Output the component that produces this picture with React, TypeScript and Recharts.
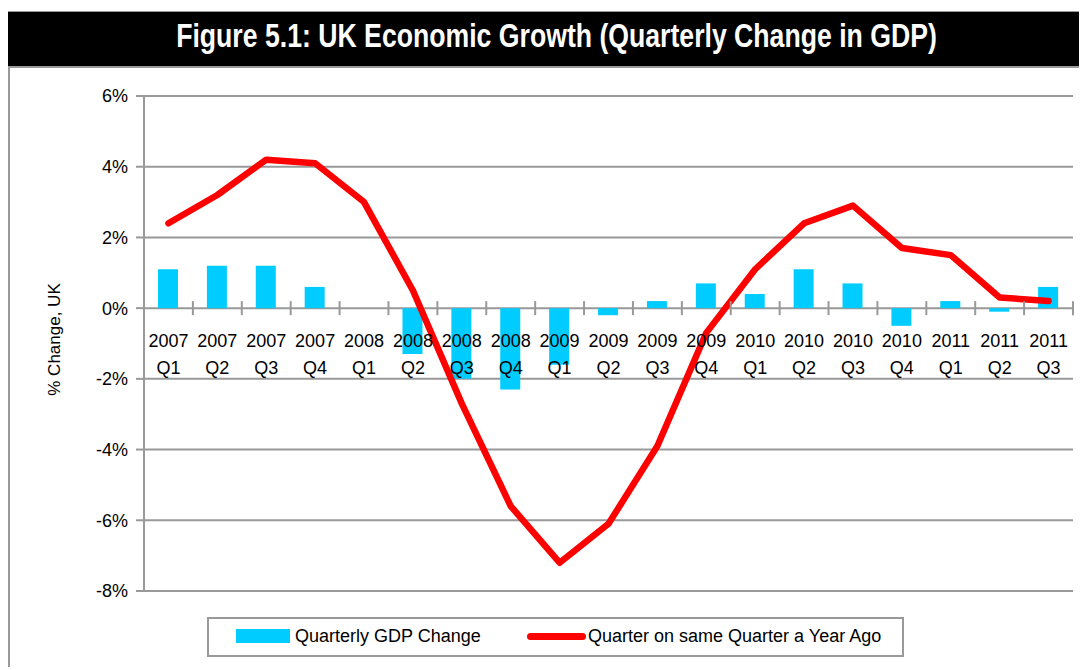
import { ComposedChart, Bar, Line, XAxis, YAxis, CartesianGrid } from "recharts";

const quarters = [
  "2007 Q1", "2007 Q2", "2007 Q3", "2007 Q4",
  "2008 Q1", "2008 Q2", "2008 Q3", "2008 Q4",
  "2009 Q1", "2009 Q2", "2009 Q3", "2009 Q4",
  "2010 Q1", "2010 Q2", "2010 Q3", "2010 Q4",
  "2011 Q1", "2011 Q2", "2011 Q3",
];
const quarterlyChange = [1.1, 1.2, 1.2, 0.6, 0.0, -1.3, -2.0, -2.3, -1.6, -0.2, 0.2, 0.7, 0.4, 1.1, 0.7, -0.5, 0.2, -0.1, 0.6];
const yearOnYear = [2.4, 3.2, 4.2, 4.1, 3.0, 0.5, -2.7, -5.6, -7.2, -6.1, -3.9, -0.7, 1.1, 2.4, 2.9, 1.7, 1.5, 0.3, 0.2];
const yTicks = [-8, -6, -4, -2, 0, 2, 4, 6];

const data = quarters.map((quarter, i) => ({
  quarter,
  gdp: quarterlyChange[i],
  yoy: yearOnYear[i],
}));

const W = 1079;
const H = 659;
const PLOT = { top: 85, left: 136, width: 929, height: 495 };
const X_AXIS_H = 30;
const Y_MIN = -8;
const Y_MAX = 6;
const ZERO_Y = PLOT.top + (PLOT.height * Y_MAX) / (Y_MAX - Y_MIN);
const BAND = PLOT.width / quarters.length;
const GRID = "#999";
const FONT = "'Liberation Sans', Arial, sans-serif";
// the title is set in a narrow bold face; squeeze the regular bold to match
const TITLE_SQUEEZE = 0.82;
const TITLE_CX = 548.5;

function QuarterTick(props: any) {
  const { x, payload, index } = props;
  const [year, q] = String(payload.value).split(" ");
  return (
    <g>
      <line x1={x - BAND / 2} x2={x - BAND / 2} y1={ZERO_Y - 7} y2={ZERO_Y + 7} stroke={GRID} strokeWidth={2} />
      {index === quarters.length - 1 && (
        <line x1={x + BAND / 2} x2={x + BAND / 2} y1={ZERO_Y - 7} y2={ZERO_Y + 7} stroke={GRID} strokeWidth={2} />
      )}
      <text x={x} y={ZERO_Y + 39} textAnchor="middle" fontSize={18} fontFamily={FONT} fill="#000">
        {year}
      </text>
      <text x={x} y={ZERO_Y + 66} textAnchor="middle" fontSize={18} fontFamily={FONT} fill="#000">
        {q}
      </text>
    </g>
  );
}

function YLabel(props: any) {
  const { viewBox } = props;
  const cx = viewBox.x + 46;
  const cy = viewBox.y + viewBox.height / 2 - 4;
  return (
    <text
      x={cx}
      y={cy}
      transform={`rotate(-90 ${cx} ${cy})`}
      textAnchor="middle"
      dominantBaseline="central"
      fontSize={17}
      fontFamily={FONT}
      fill="#000"
    >
      % Change, UK
    </text>
  );
}

export default function App() {
  return (
    <div style={{ position: "relative", top: 3, width: W, height: H, fontFamily: FONT }}>
      <style>{"html,body{overflow:hidden}"}</style>
      <div style={{ position: "absolute", left: 0, top: 0, width: 2, height: H, background: GRID }} />
      <div
        style={{
          position: "absolute",
          left: 0,
          top: 0,
          width: W,
          height: 57,
          background: "#000",
          borderTop: `1px solid ${GRID}`,
          borderBottom: `2px solid ${GRID}`,
          boxSizing: "border-box",
        }}
      />
      <svg style={{ position: "absolute", left: 0, top: 0 }} width={W} height={60}>
        <g transform={`translate(${TITLE_CX} 36) scale(${TITLE_SQUEEZE} 1)`}>
          <text
            x={0}
            y={0}
            textAnchor="middle"
            fontSize={32.5}
            fontWeight="bold"
            fontFamily={FONT}
            fill="#fff"
          >
            Figure 5.1: UK Economic Growth (Quarterly Change in GDP)
          </text>
        </g>
      </svg>

      <div style={{ position: "absolute", left: 0, top: 0 }}>
        <ComposedChart
          width={W}
          height={H}
          data={data}
          margin={{
            top: PLOT.top,
            right: W - PLOT.left - PLOT.width,
            bottom: H - PLOT.top - PLOT.height - X_AXIS_H,
            left: 0,
          }}
        >
          <CartesianGrid vertical={false} stroke={GRID} strokeWidth={2} />
          <YAxis
            width={PLOT.left}
            domain={[Y_MIN, Y_MAX]}
            ticks={yTicks}
            interval={0}
            tickFormatter={(v) => `${v}%`}
            axisLine={{ stroke: GRID, strokeWidth: 2 }}
            tickLine={{ stroke: GRID, strokeWidth: 2 }}
            tickSize={8}
            tickMargin={8}
            tick={{ fontSize: 18, fill: "#000", fontFamily: FONT }}
            label={<YLabel />}
          />
          <Bar dataKey="gdp" fill="#00CCFF" barSize={20} isAnimationActive={false} />
          <XAxis
            dataKey="quarter"
            height={X_AXIS_H}
            interval={0}
            axisLine={false}
            tickLine={false}
            tick={(p: any) => <QuarterTick {...p} />}
          />
          <Line
            type="linear"
            dataKey="yoy"
            stroke="#FF0000"
            strokeWidth={6.5}
            strokeLinecap="round"
            strokeLinejoin="round"
            dot={false}
            activeDot={false}
            isAnimationActive={false}
          />
        </ComposedChart>
      </div>

      <div
        style={{
          position: "absolute",
          left: 199,
          top: 606,
          width: 697,
          height: 40,
          border: `2px solid ${GRID}`,
          boxSizing: "border-box",
          background: "#fff",
          fontSize: 18,
          color: "#000",
        }}
      >
        <div style={{ position: "absolute", left: 27, top: 10, width: 54, height: 14, background: "#00CCFF" }} />
        <div style={{ position: "absolute", left: 86, top: 6, lineHeight: "22px", whiteSpace: "nowrap" }}>
          Quarterly GDP Change
        </div>
        <div
          style={{
            position: "absolute",
            left: 318,
            top: 14,
            width: 59,
            height: 7,
            borderRadius: 4,
            background: "#FF0000",
          }}
        />
        <div style={{ position: "absolute", left: 379, top: 6, lineHeight: "22px", whiteSpace: "nowrap" }}>
          Quarter on same Quarter a Year Ago
        </div>
      </div>
    </div>
  );
}
